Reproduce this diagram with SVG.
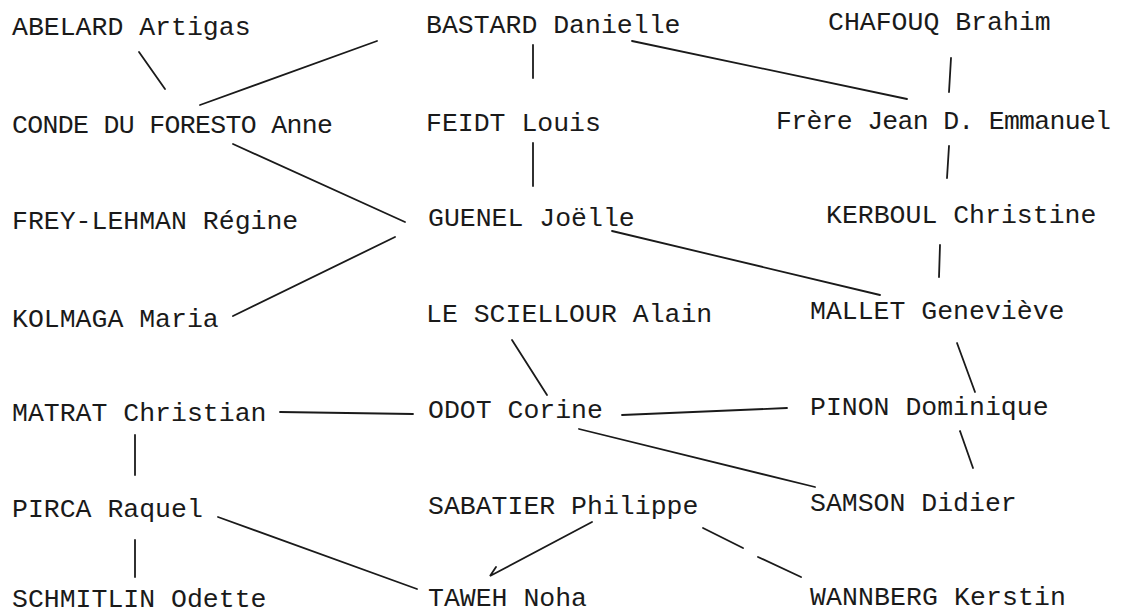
<svg xmlns="http://www.w3.org/2000/svg" width="1132" height="614" viewBox="0 0 1132 614">
<style>
text{font-family:"Liberation Mono","Courier New",monospace;font-size:26.5px;fill:#1a1a1a}
.c line,.c path{stroke:#1a1a1a;stroke-width:1.8;fill:none;stroke-linecap:round}
</style>
<rect width="1132" height="614" fill="#fff"/>
<g class="c" id="connectors">
<line x1="139" y1="52" x2="165" y2="89"/>
<line x1="377" y1="41" x2="200" y2="105"/>
<line x1="533" y1="45" x2="533" y2="78"/>
<line x1="632" y1="41" x2="907" y2="99"/>
<line x1="951" y1="58" x2="949" y2="92"/>
<line x1="533" y1="143" x2="533" y2="186"/>
<line x1="949" y1="146" x2="947" y2="178"/>
<line x1="233" y1="144" x2="405" y2="222"/>
<line x1="233" y1="316" x2="395" y2="237"/>
<line x1="612" y1="231" x2="880" y2="295"/>
<line x1="940" y1="245" x2="939" y2="277"/>
<line x1="512" y1="340" x2="547" y2="395"/>
<line x1="957" y1="343" x2="975" y2="392"/>
<line x1="280" y1="412" x2="413" y2="414"/>
<line x1="622" y1="415" x2="787" y2="408"/>
<line x1="579" y1="429" x2="815" y2="487"/>
<line x1="960" y1="431" x2="973" y2="468"/>
<line x1="135" y1="435" x2="135" y2="475"/>
<line x1="135" y1="540" x2="135" y2="577"/>
<line x1="218" y1="517" x2="417" y2="589"/>
<path d="M592 522 L490 576 L496 567"/>
<line x1="703" y1="528" x2="743" y2="548"/>
<line x1="758" y1="557" x2="801" y2="577"/>
</g>
<g id="n-abelard"><text x="12" y="35">ABELARD Artigas</text></g>
<g id="n-bastard"><text x="426" y="33">BASTARD Danielle</text></g>
<g id="n-chafouq"><text x="828" y="30">CHAFOUQ Brahim</text></g>
<g id="n-conde"><text x="12" y="133" textLength="321">CONDE DU FORESTO Anne</text></g>
<g id="n-feidt"><text x="426" y="131">FEIDT Louis</text></g>
<g id="n-frere"><text x="776" y="129" textLength="335">Frère Jean D. Emmanuel</text></g>
<g id="n-frey"><text x="12" y="229">FREY-LEHMAN Régine</text></g>
<g id="n-guenel"><text x="428" y="226">GUENEL Joëlle</text></g>
<g id="n-kerboul"><text x="826" y="223">KERBOUL Christine</text></g>
<g id="n-kolmaga"><text x="12" y="327">KOLMAGA Maria</text></g>
<g id="n-lescielllour"><text x="426" y="322">LE SCIELLOUR Alain</text></g>
<g id="n-mallet"><text x="810" y="319">MALLET Geneviève</text></g>
<g id="n-matrat"><text x="12" y="421">MATRAT Christian</text></g>
<g id="n-odot"><text x="428" y="418">ODOT Corine</text></g>
<g id="n-pinon"><text x="810" y="415">PINON Dominique</text></g>
<g id="n-pirca"><text x="12" y="517">PIRCA Raquel</text></g>
<g id="n-sabatier"><text x="428" y="514">SABATIER Philippe</text></g>
<g id="n-samson"><text x="810" y="511">SAMSON Didier</text></g>
<g id="n-schmitlin"><text x="12" y="607">SCHMITLIN Odette</text></g>
<g id="n-taweh"><text x="428" y="606">TAWEH Noha</text></g>
<g id="n-wannberg"><text x="810" y="605" textLength="256">WANNBERG Kerstin</text></g>
</svg>
